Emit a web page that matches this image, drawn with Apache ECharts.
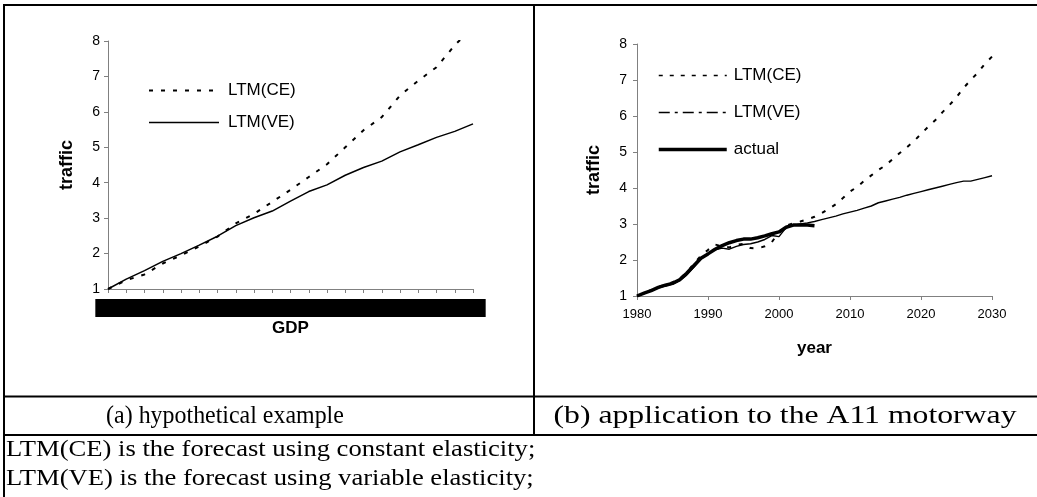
<!DOCTYPE html>
<html>
<head>
<meta charset="utf-8">
<script src="https://cdn.jsdelivr.net/npm/echarts@6/dist/echarts.min.js"></script>
<style>
html,body{margin:0;padding:0;background:#fff;}
#chart{width:1037px;height:497px;}
</style>
</head>
<body>
<div id="chart"></div>
<script>
// ---- Panel (a): hypothetical example ----
const gdpCategories = ['1.00','1.05','1.10','1.15','1.20','1.25','1.30','1.35','1.40','1.45','1.50',
  '1.55','1.60','1.65','1.70','1.75','1.80','1.85','1.90','1.95','2.00'];
const ceHypo = [1.00,1.25,1.41,1.72,1.95,2.20,2.48,2.85,3.12,3.46,3.80,4.16,4.52,5.00,5.48,5.85,6.46,6.88,7.26,7.88,8.40];
const veHypo = [1.00,1.28,1.52,1.78,2.00,2.24,2.49,2.79,3.01,3.20,3.48,3.75,3.94,4.21,4.43,4.61,4.87,5.07,5.28,5.45,5.66];

// ---- Panel (b): A11 motorway ----
const yearsActual = [1980,1981,1982,1983,1984,1985,1986,1987,1988,1989,1990,1991,1992,1993,1994,1995,1996,1997,1998,1999,2000,2001,2002,2003,2004,2005];
const actualA11 = [1.00,1.08,1.15,1.24,1.30,1.35,1.45,1.63,1.84,2.05,2.17,2.30,2.40,2.48,2.54,2.58,2.58,2.62,2.67,2.73,2.78,2.91,2.97,2.97,2.97,2.95];
const yearsForecast = [1980,1981,1982,1983,1984,1985,1986,1987,1988,1989,1990,
  1991,1992,1993,1994,1995,1996,1997,1998,1999,2000,
  2001,2002,2003,2004,2005,2006,2007,2008,2009,2010,
  2011,2012,2013,2014,2015,2016,2017,2018,2019,2020,
  2021,2022,2023,2024,2025,2026,2027,2028,2029,2030];
const veA11 = [1.00,1.07,1.15,1.22,1.28,1.33,1.42,1.58,1.80,2.02,2.18,
  2.28,2.33,2.30,2.38,2.43,2.45,2.50,2.57,2.68,2.65,
  2.90,2.96,3.00,3.03,3.07,3.12,3.17,3.22,3.28,3.33,
  3.38,3.44,3.50,3.59,3.64,3.69,3.74,3.80,3.85,3.90,
  3.95,4.00,4.05,4.10,4.15,4.19,4.19,4.24,4.29,4.34];
const ceA11 = [1.00,1.07,1.17,1.25,1.32,1.38,1.48,1.65,1.90,2.12,2.28,
  2.43,2.38,2.35,2.42,2.45,2.33,2.32,2.38,2.50,2.78,
  2.95,3.02,3.07,3.13,3.20,3.30,3.42,3.55,3.72,3.90,
  4.03,4.20,4.35,4.50,4.63,4.80,4.97,5.13,5.30,5.50,
  5.70,5.88,6.10,6.30,6.52,6.78,7.00,7.20,7.45,7.65];
const yTicks = [1,2,3,4,5,6,7,8];
const xYearTicks = [1980,1990,2000,2010,2020,2030];

const captionA = '(a) hypothetical example';
const captionB = '(b) application to the A11 motorway';
const note1 = 'LTM(CE) is the forecast using constant elasticity;';
const note2 = 'LTM(VE) is the forecast using variable elasticity;';

const pair = (xs, ys) => ys.map((v, i) => [xs[i], v]);

const sans = 'Liberation Sans';
const serif = 'Liberation Serif';
const axisGray = '#808080';

const chart = echarts.init(document.getElementById('chart'), null, {renderer: 'canvas'});

const yAxisCommon = {
  type: 'value', min: yTicks[0], max: yTicks[yTicks.length - 1], interval: 1,
  name: 'traffic', nameLocation: 'middle',
  nameTextStyle: {fontFamily: sans, fontWeight: 'bold', fontSize: 18, color: '#000'},
  axisLine: {show: true, lineStyle: {color: axisGray, width: 1}},
  axisTick: {show: true, length: 4, lineStyle: {color: axisGray}},
  axisLabel: {fontFamily: sans, fontSize: 14, color: '#000'},
  splitLine: {show: false}
};

const line = (w, type) => ({color: '#000', width: w, type: type});
const noSym = {opacity: 0};

const textEl = (x, y, sx, txt, size, align) => ({
  type: 'text', x: x, y: y, scaleX: sx,
  style: {text: txt, fontFamily: serif, fontSize: size, fill: '#000', align: align, verticalAlign: 'middle'}
});

const option = {
  animation: false,
  backgroundColor: '#fff',
  color: ['#000'],
  grid: [
    {left: 108, top: 41, width: 365, height: 248},
    {left: 637, top: 44, width: 355, height: 252}
  ],
  xAxis: [
    {
      gridIndex: 0, type: 'category', data: gdpCategories, boundaryGap: false,
      name: 'GDP', nameLocation: 'middle', nameGap: 31,
      nameTextStyle: {fontFamily: sans, fontWeight: 'bold', fontSize: 17, color: '#000'},
      axisLine: {show: true, lineStyle: {color: axisGray}},
      axisTick: {show: true, length: 4, interval: 0, lineStyle: {color: axisGray}},
      axisLabel: {interval: 0, margin: 10, fontFamily: sans, fontSize: 12, lineHeight: 14,
        color: '#000', backgroundColor: '#000', padding: [2, 1]},
      splitLine: {show: false}
    },
    {
      gridIndex: 1, type: 'value', min: xYearTicks[0], max: xYearTicks[xYearTicks.length - 1], interval: 10,
      name: 'year', nameLocation: 'middle', nameGap: 44,
      nameTextStyle: {fontFamily: sans, fontWeight: 'bold', fontSize: 17, color: '#000'},
      axisLine: {show: true, lineStyle: {color: axisGray}},
      axisTick: {show: true, length: 4, lineStyle: {color: axisGray}},
      axisLabel: {margin: 12, fontFamily: sans, fontSize: 13, color: '#000', formatter: v => String(v)},
      splitLine: {show: false}
    }
  ],
  yAxis: [
    Object.assign({}, yAxisCommon, {gridIndex: 0, nameGap: 32}),
    Object.assign({}, yAxisCommon, {gridIndex: 1, nameGap: 34, axisLabel: {fontFamily: sans, fontSize: 14, color: '#000', margin: 10}})
  ],
  legend: [
    {
      left: 148, top: 82, padding: 0, orient: 'vertical', itemWidth: 70, itemHeight: 14, itemGap: 15,
      textStyle: {fontFamily: sans, fontSize: 17, color: '#000', padding: [0, 0, 0, 4]},
      data: [
        {name: 'LTM(CE)', lineStyle: line(2, [4, 8]), itemStyle: noSym},
        {name: 'LTM(VE)', lineStyle: line(1.5, 'solid'), itemStyle: noSym}
      ]
    },
    {
      left: 657, top: 67, padding: 0, orient: 'vertical', itemWidth: 68, itemHeight: 14, itemGap: 20,
      textStyle: {fontFamily: sans, fontSize: 17, color: '#000', padding: [0, 0, 0, 2]},
      data: [
        {name: 'LTM(CE)', lineStyle: line(1.5, [4, 7]), itemStyle: noSym},
        {name: 'LTM(VE)', lineStyle: line(1.5, [11, 5, 3, 5]), itemStyle: noSym},
        {name: 'actual', lineStyle: line(3.5, 'solid'), itemStyle: noSym}
      ]
    }
  ],
  series: [
    {name: 'LTM(CE)', type: 'line', xAxisIndex: 0, yAxisIndex: 0, data: ceHypo,
      symbol: 'none', clip: true, itemStyle: {color: '#000'}, lineStyle: line(2, [4, 8])},
    {name: 'LTM(VE)', type: 'line', xAxisIndex: 0, yAxisIndex: 0, data: veHypo,
      symbol: 'none', itemStyle: {color: '#000'}, lineStyle: line(1.5, 'solid')},
    {name: 'actual', type: 'line', xAxisIndex: 1, yAxisIndex: 1, data: pair(yearsActual, actualA11),
      symbol: 'none', itemStyle: {color: '#000'}, lineStyle: line(3.5, 'solid'), z: 3},
    {name: 'LTM(VE)', type: 'line', xAxisIndex: 1, yAxisIndex: 1, data: pair(yearsForecast, veA11),
      symbol: 'none', itemStyle: {color: '#000'}, lineStyle: line(1.4, 'solid'), z: 4},
    {name: 'LTM(CE)', type: 'line', xAxisIndex: 1, yAxisIndex: 1, data: pair(yearsForecast, ceA11),
      symbol: 'none', itemStyle: {color: '#000'}, lineStyle: line(2, [4, 8]), z: 4}
  ],
  graphic: [
    // table borders
    {type: 'line', shape: {x1: 4, y1: 5, x2: 1037, y2: 5}, style: {stroke: '#000', lineWidth: 2}},
    {type: 'line', shape: {x1: 4, y1: 4, x2: 4, y2: 497}, style: {stroke: '#000', lineWidth: 2}},
    {type: 'line', shape: {x1: 534, y1: 4, x2: 534, y2: 435}, style: {stroke: '#000', lineWidth: 2}},
    {type: 'line', shape: {x1: 4, y1: 396.5, x2: 1037, y2: 396.5}, style: {stroke: '#000', lineWidth: 2}},
    {type: 'line', shape: {x1: 4, y1: 435, x2: 1037, y2: 435}, style: {stroke: '#000', lineWidth: 2}},
    // captions and notes
    textEl(225, 416, 0.92, captionA, 26, 'center'),
    textEl(785, 416, 1.22, captionB, 26, 'center'),
    textEl(6, 450, 1.108, note1, 24, 'left'),
    textEl(6, 479, 1.108, note2, 24, 'left')
  ]
};
chart.setOption(option);
</script>
</body>
</html>
